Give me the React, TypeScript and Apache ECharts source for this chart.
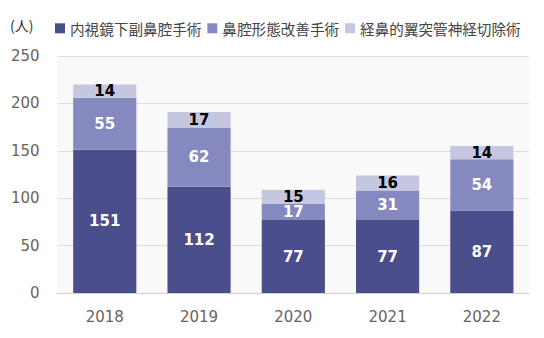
import React, { useEffect, useRef } from "react";
import * as echarts from "echarts";

const years = ["2018", "2019", "2020", "2021", "2022"];
const seriesNames = ["内視鏡下副鼻腔手術", "鼻腔形態改善手術", "経鼻的翼突管神経切除術"];
const endoscopic = [151, 112, 77, 77, 87];
const nasalShape = [55, 62, 17, 31, 54];
const vidian = [14, 17, 15, 16, 14];
const colors = ["#4a4e8b", "#8589c0", "#c5c7e1"];
const labelColors = ["#ffffff", "#ffffff", "#000000"];

const latin = "DejaVu Sans";
const cjk = "Noto Sans CJK JP";

export default function App() {
  const ref = useRef<HTMLDivElement>(null);
  useEffect(() => {
    if (!ref.current) return;
    const chart = echarts.init(ref.current, undefined, { renderer: "svg" });
    const values = [endoscopic, nasalShape, vidian];
    chart.setOption({
      animation: false,
      legend: {
        left: 47,
        top: 13,
        width: 489,
        padding: 0,
        itemWidth: 10,
        itemHeight: 10,
        itemGap: 6,
        icon: "rect",
        textStyle: { fontFamily: cjk, fontSize: 14.6, color: "#444" },
        data: seriesNames,
      },
      graphic: [
        {
          type: "text",
          left: 2,
          top: 10,
          style: { text: "(人)", fontSize: 14, fill: "#333", fontFamily: cjk },
        },
      ],
      grid: {
        left: 48,
        right: 7,
        top: 48,
        bottom: 37,
        show: true,
        backgroundColor: "#f9f9f9",
        borderWidth: 0,
      },
      xAxis: {
        type: "category",
        data: years,
        axisTick: { show: false },
        axisLine: { lineStyle: { color: "#d0d0d0" } },
        axisLabel: { color: "#6b625b", fontSize: 15, margin: 16, fontFamily: latin },
      },
      yAxis: {
        type: "value",
        min: 0,
        max: 250,
        interval: 50,
        axisLabel: {
          color: "#6b625b",
          fontSize: 15,
          margin: 18,
          fontFamily: latin,
          padding: [0, 0, 4, 0],
        },
        splitLine: { lineStyle: { color: "#dcdcdc" } },
      },
      series: seriesNames.map((name, i) => ({
        name,
        type: "bar",
        stack: "total",
        barWidth: "67%",
        data: values[i],
        itemStyle: { color: colors[i] },
        label: {
          show: true,
          position: "inside",
          color: labelColors[i],
          fontWeight: "bold",
          fontSize: 15,
          lineHeight: 12,
          fontFamily: latin,
        },
      })),
    });
    return () => chart.dispose();
  }, []);
  return <div ref={ref} style={{ width: 528, height: 322 }} />;
}
